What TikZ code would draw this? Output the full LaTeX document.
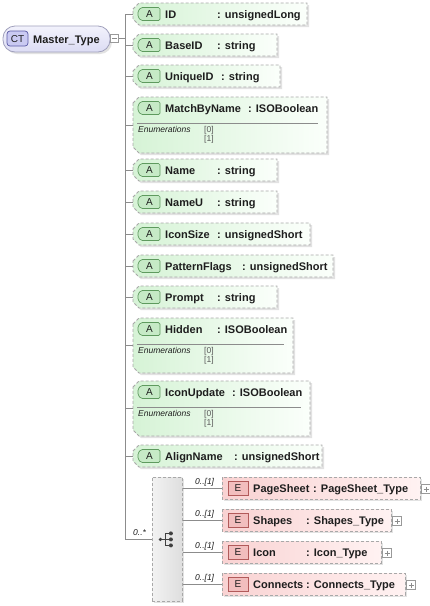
\documentclass[tikz,border=0pt]{standalone}
\usepackage{fontspec}
\setmainfont{Liberation Sans}
\definecolor{linec}{HTML}{8C8C8C}
\definecolor{bordc}{HTML}{A8A8A8}
\definecolor{shadc}{HTML}{E2E2E2}
\definecolor{attrL}{HTML}{D6F3D6}
\definecolor{attrR}{HTML}{FBFFFB}
\definecolor{abadgeF}{HTML}{C6EAC6}
\definecolor{abadgeD}{HTML}{5E9A5E}
\definecolor{elemL}{HTML}{F9D2D2}
\definecolor{elemR}{HTML}{FFF2F2}
\definecolor{ebadgeF}{HTML}{F2BEBE}
\definecolor{ebadgeD}{HTML}{B25A5A}
\definecolor{ctT}{HTML}{F2F2FC}
\definecolor{ctB}{HTML}{DCDCF4}
\definecolor{ctD}{HTML}{A0A0BC}
\definecolor{ctbF}{HTML}{CACAF2}
\definecolor{ctbD}{HTML}{5A5AA6}
\definecolor{txtc}{HTML}{1E1E1E}
\definecolor{compL}{HTML}{F2F2F2}
\definecolor{compR}{HTML}{DEDEDE}
\tikzset{
  conn/.style={draw=linec, line width=0.8pt},
  dbord/.style={draw=bordc, line width=0.8pt, dash pattern=on 3pt off 2pt},
  attrbox/.style={dbord, left color=attrL, right color=attrR},
  elembox/.style={dbord, left color=elemL, right color=elemR},
  compbox/.style={dbord, left color=compL, right color=compR, rectangle, inner sep=0pt, minimum width=30, minimum height=124},
  shad/.style={fill=shadc},
  abadge/.style={fill=abadgeF, draw=abadgeD, line width=0.7pt, rounded corners=1.5pt},
  ebadge/.style={fill=ebadgeF, draw=ebadgeD, line width=0.7pt},
  nm/.style={font=\fontsize{11}{13}\selectfont\bfseries, text=txtc, inner sep=0pt, anchor=base west},
  lbl/.style={font=\fontsize{10}{12}\selectfont, text=txtc, inner sep=0pt, anchor=base},
  enm/.style={font=\fontsize{8.5}{10}\selectfont\itshape, text=txtc, inner sep=0pt, anchor=base west},
  enval/.style={font=\fontsize{8.5}{10}\selectfont, text=black!65, inner sep=0pt, anchor=base west},
  card/.style={font=\fontsize{8.5}{10}\selectfont\itshape, text=txtc, inner sep=0pt, anchor=base west},
  sepl/.style={draw=black!45, line width=0.7pt},
  pmbox/.style={draw=black!40, fill=white, line width=0.6pt, rectangle, inner sep=0pt, minimum size=8.5},
}
% #1 id, #2 top, #3 bottom, #4 right, #5 name, #6 colon x, #7 type
\newcommand\attr[7]{%
  \fill[shad] (135,{#2+8}) -- (141,{#2+2}) -- ({#4+2},{#2+2}) -- ({#4+2},{#3+2}) -- (141,{#3+2}) -- (135,{#3-4}) -- cycle;
  \path[attrbox] (133,{#2+6}) -- (139,#2) -- (#4,#2) -- (#4,#3) -- (139,#3) -- (133,{#3-6}) -- cycle;
  \coordinate (#1) at (133,{(#2+#3)/2});
  \path[abadge] (141,{#2+4.5}) -- (160,{#2+4.5}) -- (160,{#2+17.5}) -- (141,{#2+17.5}) -- (138,{#2+14}) -- (138,{#2+8}) -- cycle;
  \node[lbl] (#1b) at (149.5,{#2+14.6}) {A};
  \node[nm] (#1n) at (165,{#2+15}) {#5};
  \node[nm] (#1t) at (#6,{#2+15}) {: #7};
}
% #1 id, #2 top, #3 right
\newcommand\enums[3]{%
  \draw[sepl] (137,{#2+26}) -- ({#3-9},{#2+26});
  \node[enm] (#1e) at (138,{#2+35}) {Enumerations};
  \node[enval] (#1v0) at (204,{#2+35}) {[0]};
  \node[enval] (#1v1) at (204,{#2+44}) {[1]};
}
% #1 id, #2 centre y, #3 right, #4 name, #5 colon x, #6 type
\newcommand\elem[6]{%
  \fill[shad] (224,{#2-9}) rectangle ({#3+2},{#2+13});
  \path[elembox] (222,{#2-11}) rectangle (#3,{#2+11});
  \coordinate (#1) at (222,#2);
  \path[ebadge] (228,{#2-7}) rectangle (248,{#2+7});
  \node[lbl] (#1b) at (238,{#2+3.6}) {E};
  \node[nm] (#1n) at (253,{#2+4}) {#4};
  \node[nm] (#1t) at (#5,{#2+4}) {: #6};
  \node[pmbox] (#1p) at ({#3+6},{#2+1}) {};
  \draw[black!45, line width=0.6pt] (#1p.center) +(-2.5,0) -- +(2.5,0) (#1p.center) +(0,-2.5) -- +(0,2.5);
  \draw[conn] (seq.east |- #1) -- (#1);
  \node[card] (#1c) at (195,{#2-4}) {0..[1]};
}
\begin{document}
\begin{tikzpicture}[x=1pt,y=-1pt]
\useasboundingbox (0,0) rectangle (430,606);
\fill[white] (0,0) rectangle (430,606);
\coordinate (trunk) at (125,14);

% complex type
\fill[shad, rounded corners=12] (5,28) rectangle (112,54);
\path[draw=ctD, line width=0.8pt, top color=ctT, bottom color=ctB, rounded corners=12] (3,26) rectangle (110,52);
\path[fill=ctbF, draw=ctbD, line width=0.7pt, rounded corners=3] (7,31) rectangle (28,46);
\node[lbl] (ctb) at (17.5,42.6) {CT};
\node[nm] (ctn) at (33,43) {Master\_Type};
\node[pmbox] (ctm) at (114.5,38.5) {};
\draw[black!45, line width=0.6pt] (ctm.center) +(-2.5,0) -- +(2.5,0);

% attributes
\attr{aID}{3}{25}{307}{ID}{217}{unsignedLong}
\attr{aBase}{34}{56}{277}{BaseID}{217}{string}
\attr{aUniq}{65}{87}{280}{UniqueID}{221}{string}
\attr{aMatch}{97}{153}{327}{MatchByName}{248}{ISOBoolean}
\enums{aMatch}{97}{327}
\attr{aName}{159}{181}{277}{Name}{217}{string}
\attr{aNameU}{191}{213}{277}{NameU}{217}{string}
\attr{aIcSz}{223}{245}{310}{IconSize}{217}{unsignedShort}
\attr{aPat}{255}{277}{333}{PatternFlags}{242}{unsignedShort}
\attr{aPrompt}{286}{308}{277}{Prompt}{217}{string}
\attr{aHidden}{318}{373}{293}{Hidden}{217}{ISOBoolean}
\enums{aHidden}{318}{293}
\attr{aIcUp}{381}{436}{310}{IconUpdate}{232}{ISOBoolean}
\enums{aIcUp}{381}{310}
\attr{aAlign}{445}{467}{322}{AlignName}{234}{unsignedShort}

% sequence compositor
\fill[shad] (154,479) rectangle (184,603);
\node[compbox, anchor=north west] (seq) at (152,477) {};
\node[card] (seqc) at (133,535) {0..*};

% sequence icon
\coordinate (sq) at (seq.center);
\fill[black!75] ([xshift=-7]sq) circle (1.8);
\draw[black!75, line width=0.9pt] ([xshift=-7]sq) -- ([xshift=-2]sq) ([xshift=-2,yshift=6]sq) -- ([xshift=-2,yshift=-6]sq);
\foreach \dy in {-6,0,6} {
  \draw[black!75, line width=0.9pt] ([xshift=-2,yshift=\dy]sq) -- ([xshift=3,yshift=\dy]sq);
  \fill[black!75] ([xshift=3.5,yshift=\dy]sq) circle (2);
}

% trunk and branches
\draw[conn] (trunk) -- (trunk |- seq.west);
\draw[conn] (ctm.east) -- (trunk |- ctm.east);
\foreach \a in {aID,aBase,aUniq,aMatch,aName,aNameU,aIcSz,aPat,aPrompt,aHidden,aIcUp,aAlign} {
  \draw[conn] (trunk |- \a) -- (\a);
}
\draw[conn] (trunk |- seq.west) -- (seq.west);

% elements
\elem{ePage}{488}{420}{PageSheet}{313}{PageSheet\_Type}
\elem{eShapes}{520}{391}{Shapes}{306}{Shapes\_Type}
\elem{eIcon}{552}{381}{Icon}{306}{Icon\_Type}
\elem{eConn}{584}{405}{Connects}{306}{Connects\_Type}
\end{tikzpicture}
\end{document}
